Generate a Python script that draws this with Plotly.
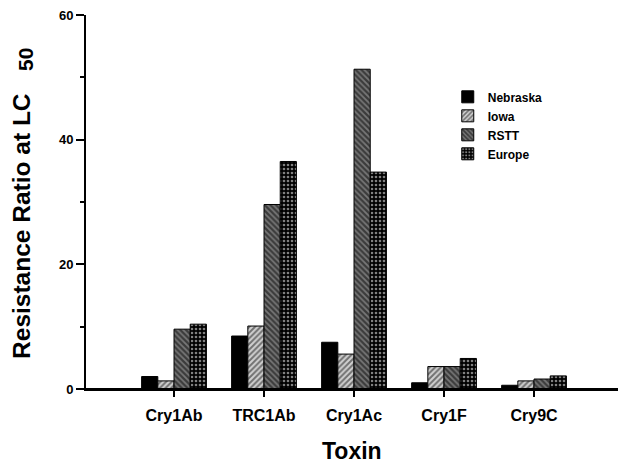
import plotly.graph_objects as go

toxins = ["Cry1Ab", "TRC1Ab", "Cry1Ac", "Cry1F", "Cry9C"]
nebraska = [2.0, 8.5, 7.5, 1.0, 0.6]
iowa = [1.3, 10.1, 5.6, 3.6, 1.3]
rstt = [9.6, 29.6, 51.3, 3.6, 1.6]
europe = [10.4, 36.5, 34.8, 4.9, 2.1]
y_ticks = [0, 20, 40, 60]

FONT = "Arial, 'Liberation Sans', sans-serif"

fig = go.Figure()
fig.add_trace(go.Bar(name="Nebraska", x=toxins, y=nebraska,
                     marker=dict(color="black", line=dict(color="black", width=1))))
fig.add_trace(go.Bar(name="Iowa", x=toxins, y=iowa,
                     marker=dict(color="#bbbbbb", line=dict(color="black", width=1),
                                 pattern=dict(shape="/", fgcolor="#111111", bgcolor="#d0d0d0",
                                              size=4, solidity=0.5))))
fig.add_trace(go.Bar(name="RSTT", x=toxins, y=rstt,
                     marker=dict(color="#555555", line=dict(color="black", width=1),
                                 pattern=dict(shape="\\", fgcolor="#000000", bgcolor="#777777",
                                              size=4, solidity=0.55))))
fig.add_trace(go.Bar(name="Europe", x=toxins, y=europe,
                     marker=dict(color="black", line=dict(color="black", width=1),
                                 pattern=dict(shape=".", fgcolor="#ffffff", bgcolor="#000000",
                                              size=4, solidity=0.35))))

fig.update_layout(
    width=618, height=465,
    margin=dict(l=86, r=0, t=15, b=76),
    paper_bgcolor="white", plot_bgcolor="white",
    barmode="group", bargap=0.28, bargroupgap=0,
    showlegend=True,
    legend=dict(x=0.68, y=0.82, xanchor="left", yanchor="top",
                font=dict(family=FONT, size=12, color="black", weight="bold"),
                bgcolor="rgba(0,0,0,0)", tracegroupgap=0),
    font=dict(family=FONT, color="black"),
    xaxis=dict(range=[-0.978, 4.933], showline=True, linecolor="black", linewidth=2,
               ticks="outside", ticklen=6, tickwidth=2, tickcolor="black",
               ticklabelstandoff=5,
               tickfont=dict(family=FONT, size=16, color="black", weight="bold"),
               showgrid=False, zeroline=False),
    yaxis=dict(range=[0, 60], tickvals=y_ticks, showline=True, linecolor="black", linewidth=2,
               ticks="outside", ticklen=8, tickwidth=2, tickcolor="black",
               minor=dict(dtick=10, ticks="outside", ticklen=4, tickwidth=2, tickcolor="black"),
               tickfont=dict(family=FONT, size=13, color="black", weight="bold"),
               showgrid=False, zeroline=False),
    shapes=[dict(type="line", xref="paper", yref="y", x0=0, x1=1, y0=0, y1=0,
                 line=dict(color="black", width=2), layer="above")],
    annotations=[
        dict(text="Resistance Ratio at LC", x=0, xref="paper", xanchor="center", xshift=-64,
             y=0.436, yref="paper", yanchor="middle", textangle=-90, showarrow=False,
             font=dict(family=FONT, size=24.5, color="black", weight="bold")),
        dict(text="50", x=0, xref="paper", xanchor="center", xshift=-60,
             y=0.88, yref="paper", yanchor="middle", textangle=-90, showarrow=False,
             font=dict(family=FONT, size=21, color="black", weight="bold")),
        dict(text="Toxin", x=0.5, xref="paper", xanchor="center",
             y=-0.166, yref="paper", yanchor="middle", showarrow=False,
             font=dict(family=FONT, size=23, color="black", weight="bold")),
    ],
)

fig.write_html("out.html", config={"displayModeBar": False},
               post_script="document.body.style.margin='0px';")
